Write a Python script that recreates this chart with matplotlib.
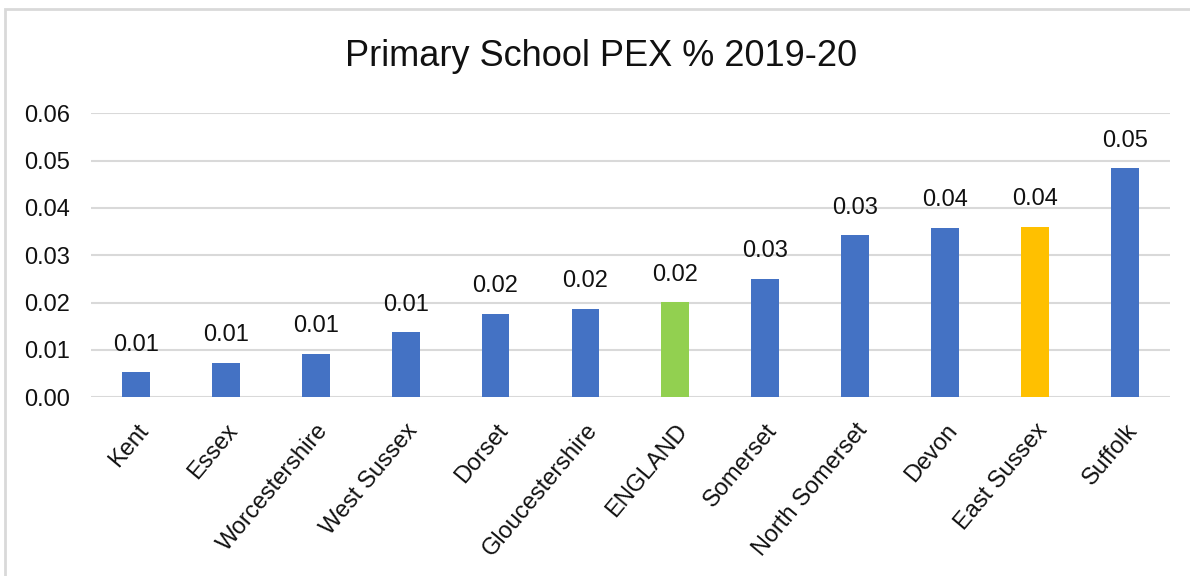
import matplotlib
matplotlib.use('Agg')
import matplotlib.pyplot as plt
import matplotlib.transforms as mtransforms
from matplotlib.patches import Rectangle

plt.rcParams['font.family'] = ['Liberation Sans', 'DejaVu Sans']

areas = ['Kent', 'Essex', 'Worcestershire', 'West Sussex', 'Dorset', 'Gloucestershire',
         'ENGLAND', 'Somerset', 'North Somerset', 'Devon', 'East Sussex', 'Suffolk']
pex = [0.0053, 0.0073, 0.0092, 0.0137, 0.0176, 0.0187,
       0.0201, 0.0250, 0.0342, 0.0358, 0.0360, 0.0484]
colours = ['#4472C4'] * 6 + ['#92D050'] + ['#4472C4'] * 3 + ['#FFC000', '#4472C4']
y_ticks = [0.00, 0.01, 0.02, 0.03, 0.04, 0.05, 0.06]

fig = plt.figure(figsize=(11.9, 5.76), dpi=100)
ax = fig.add_axes([0.0765, 0.3102, 0.9065, 0.4931])

# chart frame (cut off at right and bottom in the original)
fig.patches.append(Rectangle((5 / 1190, -0.1), 1.2, 1 - 9 / 576 + 0.1,
                             transform=fig.transFigure, fill=False,
                             edgecolor='#D9D9D9', linewidth=2))

x = range(len(areas))
bars = ax.bar(x, pex, width=0.31, color=colours, zorder=3)
for b, v in zip(bars, pex):
    ax.annotate(f'{v:.2f}', (b.get_x() + b.get_width() / 2, v),
                xytext=(0, 12), textcoords='offset points',
                ha='center', va='bottom', fontsize=17, color='#111111')

ax.set_xlim(-0.5, len(areas) - 0.5)
ax.set_ylim(0, 0.06)
ax.set_yticks(y_ticks)
ax.set_yticklabels([f'{t:.2f}' for t in y_ticks], fontsize=17, color='#111111')
ax.set_xticks(list(x))
ax.set_xticklabels(areas, rotation=50, ha='right', rotation_mode='anchor',
                   fontsize=17, color='#111111')
shift = mtransforms.ScaledTranslation(-6 / 100, 0, fig.dpi_scale_trans)
for lbl in ax.get_xticklabels():
    lbl.set_transform(lbl.get_transform() + shift)
ax.tick_params(axis='both', length=0)
ax.tick_params(axis='y', pad=15)
ax.tick_params(axis='x', pad=16)
ax.yaxis.grid(True, color='#D9D9D9', linewidth=1.5, zorder=0)
for s in ax.spines.values():
    s.set_visible(False)

fig.text(601 / 1190, 1 - 57 / 576, 'Primary School PEX % 2019-20',
         ha='center', va='center', fontsize=26, color='#111111')

fig.savefig('out.png', dpi=100)
